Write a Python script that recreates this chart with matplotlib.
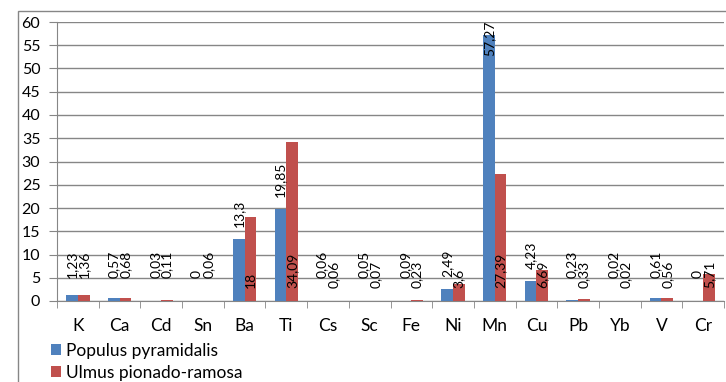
import matplotlib
matplotlib.use("Agg")
import matplotlib.pyplot as plt
from matplotlib.patches import Rectangle
import numpy as np

plt.rcParams["font.family"] = ["Lato", "DejaVu Sans"]

elements = ["K", "Ca", "Cd", "Sn", "Ba", "Ti", "Cs", "Sc", "Fe", "Ni",
            "Mn", "Cu", "Pb", "Yb", "V", "Cr"]
populus = [1.23, 0.57, 0.03, 0, 13.3, 19.85, 0.06, 0.05, 0.09, 2.49,
           57.27, 4.23, 0.23, 0.02, 0.61, 0]
ulmus = [1.36, 0.68, 0.11, 0.06, 18, 34.09, 0.06, 0.07, 0.23, 3.6,
         27.39, 6.69, 0.33, 0.02, 0.56, 5.71]
series_names = ["Populus pyramidalis", "Ulmus pionado-ramosa"]

BLUE = "#4F81BD"
RED = "#C0504D"
GRID = "#868686"


def fmt(v):
    return f"{v:g}".replace(".", ",")


fig = plt.figure(figsize=(7.26, 3.82), dpi=100)
W, H = 726, 382

# outer chart frame
fig.patches.append(Rectangle((18 / W, -0.1), 1.1, 1 - 11 / H + 0.1,
                             transform=fig.transFigure, fill=False,
                             edgecolor=GRID, linewidth=1.0))

ax = fig.add_axes([57 / W, 1 - 301 / H, (724 - 57) / W, (301 - 22) / H])

x = np.arange(len(elements))
w = 0.28
ax.bar(x - w / 2, populus, w, color=BLUE, label=series_names[0], zorder=3)
ax.bar(x + w / 2, ulmus, w, color=RED, label=series_names[1], zorder=3)

ax.set_xlim(-0.5, len(elements) - 0.5)
ax.set_ylim(0, 60)
ax.set_yticks(np.arange(0, 61, 5))
ax.yaxis.grid(True, color=GRID, linewidth=1.0, zorder=0)
ax.set_axisbelow(True)

ax.set_xticks(x)
ax.set_xticklabels(elements, fontsize=12.5)
ax.set_xticks(np.arange(-0.5, len(elements)), minor=True)
ax.tick_params(axis="x", which="major", length=0, pad=12)
ax.tick_params(axis="x", which="minor", length=5, color=GRID)
ax.tick_params(axis="y", length=6, color=GRID, labelsize=11.5, pad=6)

for s in ("top", "right"):
    ax.spines[s].set_visible(False)
for s in ("left", "bottom"):
    ax.spines[s].set_color(GRID)

# value labels, rotated
for i, v in enumerate(populus):
    if v > 50:
        ax.text(i - w / 2, 60.2, fmt(v), rotation=90, ha="center", va="top",
                fontsize=10, zorder=4, clip_on=False)
    else:
        ax.text(i - w / 2, max(v + 2.6, 5.0), fmt(v), rotation=90,
                ha="center", va="bottom", fontsize=10, zorder=4)
for i, v in enumerate(ulmus):
    base = 4.9 if i < 4 else 2.8
    ax.text(i + w / 2, base, fmt(v), rotation=90, ha="center", va="bottom",
            fontsize=10, zorder=4)

fig.legend(loc="upper left", bbox_to_anchor=(44 / W, 1 - 336 / H),
           frameon=False, fontsize=12.5, handlelength=0.6, handleheight=0.6,
           handletextpad=0.25, labelspacing=0.35, borderaxespad=0)

fig.savefig("out.png", dpi=100)
